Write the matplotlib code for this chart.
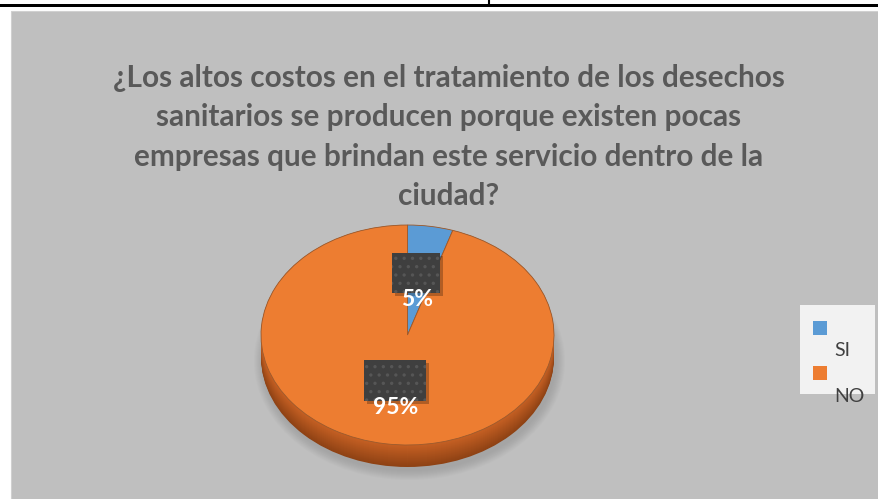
import matplotlib
matplotlib.use("Agg")
import matplotlib.pyplot as plt
from matplotlib.patches import Ellipse, Rectangle

# Survey answers
categories = ["SI", "NO"]
percentages = [5, 95]
colors = ["#5b9bd5", "#ed7d31"]
title_lines = ["¿Los altos costos en el tratamiento de los desechos",
               "sanitarios se producen porque existen pocas",
               "empresas que brindan este servicio dentro de la",
               "ciudad?"]

W, H = 879, 499
fig = plt.figure(figsize=(W / 100, H / 100), dpi=100)
fig.patch.set_facecolor("white")

# background canvas in pixel units (y down)
bg = fig.add_axes([0, 0, 1, 1])
bg.set_xlim(0, W)
bg.set_ylim(H, 0)
bg.axis("off")

# page rule above the chart
bg.add_patch(Rectangle((0, 4), W, 3, color="black", lw=0))
bg.plot([489, 489], [0, 4], color="black", lw=1.5)

# grey chart area
bg.add_patch(Rectangle((11, 11), W - 11, H - 11, facecolor="#bfbfbf",
                       edgecolor="#d0d0d0", lw=0.8))

# title, one line at a time
for k, line in enumerate(title_lines):
    bg.text(449, 87 + 39.3 * k, line, ha="center", va="baseline",
            fontsize=21.4, fontweight="bold", color="#595959", family="Lato")

# pie geometry (pixels)
cx, cy, rx, ry, depth = 407.5, 335, 146.5, 110, 22

# soft shadow under the disc
for i in range(10):
    bg.add_patch(Ellipse((cx + 2, cy + depth + 4), 2 * rx + 18 - 2 * i,
                         2 * ry + 18 - 2 * i, color="#7a7a7a", alpha=0.04, lw=0))

# side of the disc
n = depth
for i in range(n, -1, -1):
    t = i / n
    r = 0.78 - 0.22 * t
    g = 0.38 - 0.12 * t
    b = 0.14 - 0.06 * t
    bg.add_patch(Ellipse((cx, cy + i), 2 * rx, 2 * ry, facecolor=(r, g, b),
                         edgecolor="none"))

# top face of the pie
pax = fig.add_axes([(cx - rx) / W, (H - cy - ry) / H, 2 * rx / W, 2 * ry / H])
pax.pie(percentages, colors=colors, startangle=90, counterclock=False,
        wedgeprops=dict(edgecolor="#9a5a2e", linewidth=0.6))
pax.set_aspect("auto")
pax.set_xlim(-1, 1)
pax.set_ylim(-1, 1)
pax.axis("off")

# data labels with dark boxes
lab = fig.add_axes([0, 0, 1, 1])
lab.set_xlim(0, W)
lab.set_ylim(H, 0)
lab.axis("off")
plt.rcParams["hatch.linewidth"] = 1.2
boxes = [(392, 253, 48, 40), (364, 360, 62, 41)]
text_pos = [(417, 300), (396, 407)]
for (bx, by, bw, bh), (tx, ty), v in zip(boxes, text_pos, percentages):
    lab.add_patch(Rectangle((bx + 3, by + 3), bw, bh, color="black",
                            alpha=0.25, lw=0))
    lab.add_patch(Rectangle((bx, by), bw, bh, facecolor="#3f3f3f",
                            edgecolor="#565656", hatch="..", lw=0))
    lab.text(tx, ty, f"{v}%", ha="center", va="center", fontsize=16.5,
             fontweight="bold", color="white", family="Lato")

# legend
lab.add_patch(Rectangle((800, 305), 75, 89, facecolor="#f2f2f2", lw=0))
sq_y = [321, 366]
txt_y = [351, 396]
for c, name, sy, ty in zip(colors, categories, sq_y, txt_y):
    lab.add_patch(Rectangle((813, sy), 14, 14, facecolor=c, lw=0))
    lab.text(834, ty, name, ha="left", va="center", fontsize=14,
             color="#404040", family="Lato")

fig.savefig("out.png", dpi=100)
